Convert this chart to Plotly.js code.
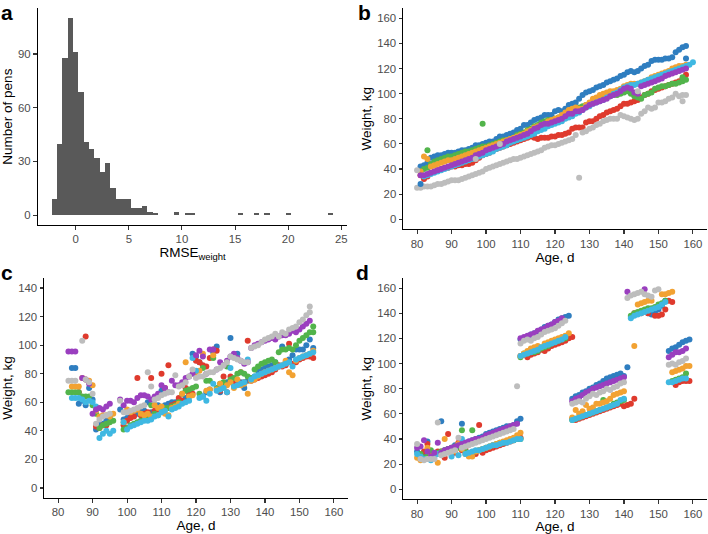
<!DOCTYPE html>
<html>
<head>
<meta charset="utf-8">
<script src="https://cdn.plot.ly/plotly-3.0.1.min.js"></script>
<style>html,body{margin:0;padding:0;background:#fff}#chart{width:708px;height:534px}</style>
</head>
<body>
<div id="chart"></div>
<script>
// ---------- Panel a: histogram of RMSE_weight ----------
const histBinCenters = [-2,-1.5,-1,-0.5,0,0.5,1,1.5,2,2.5,3,3.5,4,4.5,5,5.5,6,6.5,7,7.5,9.5,10.5,11,15.5,17,18,20,24];
const histCounts     = [9,40,88,110,91,69,41,37,32,24,29,15,9,9,9,4,4,5,2,1,2,1,1,1,1,1,1,1];
const histTicksX = [0,5,10,15,20,25];
const histTicksY = [0,30,60,90];

// ---------- Panel b: ages 80..160 ----------
const agesB = [80,81,82,83,84,85,86,87,88,89,90,91,92,93,94,95,96,97,98,99,100,101,102,103,104,105,106,107,108,109,110,111,112,113,114,115,116,117,118,119,120,121,122,123,124,125,126,127,128,129,130,131,132,133,134,135,136,137,138,139,140,141,142,143,144,145,146,147,148,149,150,151,152,153,154,155,156,157,158,159,160];
const bBlue   = [null,42,43,45,49,50,51,51,52,53, 53,53,54,55,55,56,57,59,59,60, 61,62,62,64,66,66,67,68,69,71, 72,75,75,77,79,80,81,83,83,83, 86,87,86,88,91,92,93,96,99,101, 102,103,105,106,107,109,110,111,112,114, 115,117,118,117,118,120,122,123,126,127, 127,127,128,128,129,133,135,137,138,null, null];
const bOrange = [null,38,50,48,42,43,44,45,46,47, 47,48,49,50,51,52,53,54,55,56, 57,58,59,60,61,62,63,64,65,66, 67,68,70,71,73,74,75,76,78,79, 80,81,83,85,87,88,89,88,88,91, 93,96,97,99,100,101,102,102,103,104, 106,107,108,108,108,109,110,111,113,114, 115,116,117,118,120,121,122,122,123,null, null];
const bGreen  = [null,38,40,41,44,46,47,48,49,50, 50,51,52,53,54,54,55,56,57,58, 58,59,60,61,62,63,63,64,65,67, 68,69,71,72,74,75,77,78,79,79, 80,81,82,83,84,85,87,89,90,91, 92,93,95,96,97,97,98,99,99,100, 101,102,100,98,97,96,99,100,101,104, 105,106,106,107,108,108,109,110,111,null, null];
const bRed    = [null,35,32,34,37,38,39,40,41,41, 42,42,43,43,44,44,45,47,49,51, 52,53,55,56,57,58,59,60,61,62, 63,64,65,66,65,64,65,65,65,66, 66,67,67,68,69,72,73,73,73,77, 78,78,80,82,83,85,86,87,88,90, 92,92,93,94,95,97,99,100,102,103, 104,105,106,107,108,109,110,112,115,null, null];
const bPurple = [null,35,35,36,37,38,39,40,41,42, 43,44,45,46,47,48,49,51,52,53, 55,56,57,58,59,60,62,63,64,65, 66,67,68,70,72,73,75,76,76,77, 78,79,80,82,84,84,86,86,87,89, 91,92,93,94,95,96,98,99,100,102, 104,105,104,101,100,106,107,108,109,110, 111,112,114,115,116,117,118,119,120,null, null];
const bCyan   = [null,null,34,35,36,37,38,39,40,41, 42,43,44,45,46,47,48,49,50,51, 52,53,54,56,57,58,59,61,62,63, 64,65,66,67,68,70,71,72,74,75, 76,77,78,80,81,82,84,85,87,89, 90,92,93,94,95,97,98,100,101,103, 105,106,107,107,108,109,110,111,112,113, 114,115,116,117,118,119,120,121,122,123, 125];
const bGray   = [25,25,26,26,26,27,28,28,29,30, 31,31,31,32,33,34,35,36,37,38, 40,41,42,43,44,45,46,47,48,48, 49,50,51,52,53,54,55,57,58,59, 59,60,61,62,63,64,67,null,69,70, 72,73,75,76,78,79,80,80,80,83, 82,81,80,79,80,84,86,89,88,89, 93,93,94,96,97,100,98,99,99,null, null];
// extra (off-trend) points in panel b
const bExtraAge    = [81,158,83,99,157,80,97,104,127,144,157];
const bExtraWeight = [28,128,55,76,113,39,48,60,33,102,94];
const bExtraSeries = ['blue','blue','green','green','green','gray','gray','gray','gray','gray','gray'];

// ---------- Panel c: ages 83..154 ----------
const agesC = [83,84,85,86,87,88,89,90,91,92,93,94,95,96,97,98,99,100,101,102,103,104,105,106,107,108,109,110,111,112,113,114,115,116,117,118,119,120,121,122,123,124,125,126,127,128,129,130,131,132,133,134,135,136,137,138,139,140,141,142,143,144,145,146,147,148,149,150,151,152,153,154];
const cPurple = [95.5,95.5,95.5,null,77,76,73,52,55,56, 55,57,59,null,null,62,58,61,61,60, 63,65,65,64,62,64,66,72,70,67, 75,72,72,74,77,78,80,93,96,92, 80,97,97,83,88,86,89,92,94,91, 89,87,88,98,100,101,102,103,104,105, 104,106,107,107,108,110,109,111,113,115, 117,null];
const cGray   = [75,75,75,null,103,76,74,66,45,48, 50,51,52,null,null,61,53,53,54,55, 56,57,58,81,71,62,63,65,66,67, 67,79,71,72,74,78,83,77,78,78, 80,81,81,83,84,86,88,92,91,90, 89,88,88,98,99,100,102,104,105,106, 108,106,109,108,111,112,113,116,118,121, 127,null];
const cGreen  = [67,67,67,67,64,64,64,58,52,42, 44,45,46,47,null,null,41,42,44,45, 46,47,48,50,58,52,51,55,56,56, 57,58,60,66,68,69,70,71,66,84, 75,75,91,70,73,74,85,76,77,80, 81,80,78,77,83,85,87,88,89,90, 88,95,97,97,98,97,100,103,105,107, 109,113];
const cOrange = [null,71,71,71,77,76,75,72,54,50, 51,51,50,52,null,null,46,55,53,54, 55,52,51,52,50,58,56,57,52,51, 56,57,59,66,88,64,65,79,82,94, 68,69,93,69,73,70,72,74,70,76, 72,73,66,75,76,78,80,81,82,83, 84,85,86,89,81,79,89,91,92,93, 94,96];
const cRed    = [null,null,null,67,null,106,74,null,43,42, 44,44,null,null,null,null,44,47,49,50, 77,51,52,53,77,54,55,80,70,86, 58,59,63,61,70,66,66,89,88,86, 85,91,97,96,68,78,67,78,73,75, 81,74,103,75,76,77,78,79,80,81, 83,86,85,86,101,87,88,90,91,92, 92,91];
const cBlue   = [null,84,84,59,61,58,70,62,41,45, 45,47,50,null,null,55,48,49,50,51, 52,55,54,60,53,58,58,68,58,59, 60,60,61,61,63,64,94,92,88,64, 67,69,95,99,67,71,74,105,72,94, 74,70,75,77,78,82,83,84,85,86, 88,85,99,88,90,93,97,97,97,100, 104,98];
const cCyan   = [null,63,63,63,62,60,61,60,57,35, 38,40,38,40,null,null,46,41,43,44, 45,46,47,47,48,50,51,53,54,50, 55,56,57,59,60,61,91,82,63,64, 61,66,73,68,69,70,67,84,71,72, 73,74,90,76,78,79,80,81,82,83, 84,85,86,87,88,85,90,91,92,93, 94,95];
const cExtraAge    = [153,154];
const cExtraWeight = [123,109];
const cExtraSeries = ['gray','green'];

// ---------- Panel d: five pen periods (ages repeat where periods meet) ----------
const agesD = [80,81,82,83,84,85,86,87,88,89,90,91,92,93,94,95,96,97,98,99,100,101,102,103,104,105,106,107,108,109,110,
               110,111,112,113,114,115,116,117,118,119,120,121,122,123,124,125,
               125,126,127,128,129,130,131,132,133,134,135,136,137,138,139,140,141,142,143,
               141,142,143,144,145,146,147,148,149,150,151,152,153,154,
               153,154,155,156,157,158,159];
const dPurple = [33,34,39,30,26,29,37,29,31,32,33,34,35,36,37,38,39,40,40,41,43,44,45,46,47,48,49,50,51,52,null,
                 120,121,122,123,124,126,127,128,130,131,133,134,136,null,null,null,
                 70,72,73,75,77,78,80,81,82,83,84,85,86,87,88,89,null,null,null,
                 157,null,null,null,null,159,null,null,null,null,null,null,null,null,
                 105,107,109,109,110,112,null];
const dBlue   = [30,27,29,38,27,null,null,54,31,32,33,35,34,52,37,38,39,40,41,42,44,45,46,47,48,49,50,50,51,54,56,
                 119,120,121,123,124,125,127,129,130,131,133,135,136,137,138,null,
                 72,74,75,77,78,80,81,83,84,86,88,89,90,91,92,90,97,null,null,
                 null,137,139,140,141,142,140,139,141,143,146,150,null,null,
                 110,112,113,115,117,118,119];
const dGray   = [36,24,23,24,24,24,53,27,28,29,30,31,41,33,34,35,36,37,38,39,40,41,42,43,44,45,46,47,48,82,null,
                 116,118,119,118,120,121,123,125,126,127,128,130,132,134,null,null,
                 68,69,70,69,72,74,76,75,77,78,80,79,81,82,84,85,null,null,null,
                 152,154,155,156,157,155,154,153,158,159,null,null,null,null,
                 99,100,99,101,102,104,null];
const dOrange = [25,23,24,33,26,27,21,29,40,30,31,30,36,32,28,26,26,30,31,32,33,34,35,36,37,38,39,40,41,43,45,
                 106,108,110,112,113,114,113,116,117,118,119,120,121,122,124,null,
                 57,63,60,62,67,64,65,68,68,69,70,72,75,76,77,78,null,null,114,
                 null,null,null,147,148,149,150,150,null,null,155,155,156,157,
                 null,93,94,95,96,98,98];
const dRed    = [null,25,30,36,29,27,30,30,25,44,28,29,37,31,32,27,27,28,51,29,31,32,33,34,35,36,37,38,39,40,41,
                 106,107,105,107,108,109,111,110,112,114,115,116,117,118,120,121,
                 56,55,56,57,58,59,60,61,62,63,64,65,66,67,68,66,67,68,72,
                 null,null,140,null,140,null,140,null,138,138,139,143,150,149,
                 null,null,83,85,86,86,86];
const dGreen  = [null,28,25,26,31,27,29,30,31,32,33,34,33,47,30,29,47,30,31,32,33,34,35,36,37,37,38,39,39,40,40,
                 105,108,108,109,109,110,112,113,114,116,117,118,119,120,null,null,
                 55,56,57,58,59,60,61,62,63,71,65,66,68,69,70,71,null,null,null,
                 null,138,140,141,142,143,144,144,145,147,148,150,null,null,
                 null,86,87,88,89,92,null];
const dCyan   = [28,26,24,24,23,25,28,29,30,31,26,32,27,40,28,29,30,31,31,32,33,34,35,35,36,37,37,38,39,40,40,
                 106,107,108,109,110,111,113,114,115,116,117,118,119,121,null,null,
                 55,56,57,58,59,60,61,62,63,64,65,66,67,68,71,72,null,null,null,
                 null,136,138,139,140,141,142,143,144,145,147,149,null,null,
                 85,85,86,87,88,88,null];

const ageTicks = [80,90,100,110,120,130,140,150,160];
const weightTicksB = [0,20,40,60,80,100,120,140,160];
const weightTicksC = [0,20,40,60,80,100,120,140];

// ---------- styles ----------
const seriesColors = {blue:'#2f7ec0', orange:'#f2a232', green:'#52b44b', red:'#df3a2d', purple:'#9a3fbf', cyan:'#3fb8e2', gray:'#bdbdbd'};
const drawOrder = ['blue','red','green','orange','cyan','purple','gray'];
const MS = 6;

const panelB = {blue:bBlue, orange:bOrange, green:bGreen, red:bRed, purple:bPurple, cyan:bCyan, gray:bGray};
const panelC = {blue:cBlue, orange:cOrange, green:cGreen, red:cRed, purple:cPurple, cyan:cCyan, gray:cGray};
const panelD = {blue:dBlue, orange:dOrange, green:dGreen, red:dRed, purple:dPurple, cyan:dCyan, gray:dGray};

const traces = [];
traces.push({type:'bar', x:histBinCenters, y:histCounts, width:0.5, marker:{color:'#595959', line:{width:0}}, xaxis:'x', yaxis:'y', hoverinfo:'skip'});

function addPanel(ages, series, xa, ya, exAge, exW, exS) {
  drawOrder.forEach(function(name){
    traces.push({type:'scatter', mode:'markers', x:ages, y:series[name], xaxis:xa, yaxis:ya,
      marker:{color:seriesColors[name], size:MS, line:{width:0}}, cliponaxis:false, hoverinfo:'skip'});
  });
  if (exAge) {
    drawOrder.forEach(function(name){
      const xs=[], ys=[];
      exAge.forEach(function(a,i){ if (exS[i]===name){ xs.push(a); ys.push(exW[i]); } });
      if (xs.length) traces.push({type:'scatter', mode:'markers', x:xs, y:ys, xaxis:xa, yaxis:ya,
        marker:{color:seriesColors[name], size:MS, line:{width:0}}, hoverinfo:'skip'});
    });
  }
}
addPanel(agesB, panelB, 'x2', 'y2', bExtraAge, bExtraWeight, bExtraSeries);
addPanel(agesC, panelC, 'x3', 'y3', cExtraAge, cExtraWeight, cExtraSeries);
addPanel(agesD, panelD, 'x4', 'y4', null, null, null);

const W = 708, H = 534;
function px(a,b){ return [a/W, b/W]; }
function py(top,bottom){ return [1-bottom/H, 1-top/H]; }

const tickFont = {family:'Liberation Sans, Arial, sans-serif', size:11.4, color:'#4d4d4d'};
const titleFont = {family:'Liberation Sans, Arial, sans-serif', size:13.5, color:'#000'};
function axis(dom, range, ticks, anchor, title, standoff) {
  return {domain:dom, range:range, tickvals:ticks, ticktext:ticks.map(String), anchor:anchor,
    showline:true, linecolor:'#000', linewidth:1.1, ticks:'outside', ticklen:3.7, tickwidth:1.1, tickcolor:'#333',
    showgrid:false, zeroline:false, tickfont:tickFont, automargin:false, fixedrange:true,
    title:{text:title, font:titleFont, standoff:standoff}};
}

const layout = {
  width:W, height:H, margin:{l:0,r:0,t:0,b:0}, paper_bgcolor:'#fff', plot_bgcolor:'#fff',
  showlegend:false, bargap:0,
  font:{family:'Liberation Sans, Arial, sans-serif'},
  xaxis:  axis(px(37.7,347.4), [-3.575,25.575], histTicksX, 'y', 'RMSE<sub>weight</sub>', 2),
  yaxis:  axis(py(8.3,225), [-5.5,115.5], histTicksY, 'x', 'Number of pens', 2),
  xaxis2: axis(px(403.3,706.7), [76,164], ageTicks, 'y2', 'Age, d', 2),
  yaxis2: axis(py(8.3,229.3), [-8,168], weightTicksB, 'x2', 'Weight, kg', 2),
  xaxis3: axis(px(44.3,347.7), [76,164], ageTicks, 'y3', 'Age, d', 1),
  yaxis3: axis(py(278,498), [-7,147], weightTicksC, 'x3', 'Weight, kg', 2),
  xaxis4: axis(px(403.3,706.7), [76,164], ageTicks, 'y4', 'Age, d', 1),
  yaxis4: axis(py(278,499.3), [-8,168], weightTicksB, 'x4', 'Weight, kg', 2),
  annotations: [
    {text:'<b>a</b>', x:0/W, y:1-13/H},
    {text:'<b>b</b>', x:357/W, y:1-13/H},
    {text:'<b>c</b>', x:0/W, y:1-272/H},
    {text:'<b>d</b>', x:355/W, y:1-272/H}
  ].map(function(a){ return Object.assign({xref:'paper', yref:'paper', xanchor:'left', yanchor:'middle', showarrow:false, borderpad:0,
      font:{family:'Liberation Sans, Arial, sans-serif', size:21, color:'#000'}}, a); })
};

Plotly.newPlot('chart', traces, layout, {staticPlot:true, displayModeBar:false});
</script>
</body>
</html>
